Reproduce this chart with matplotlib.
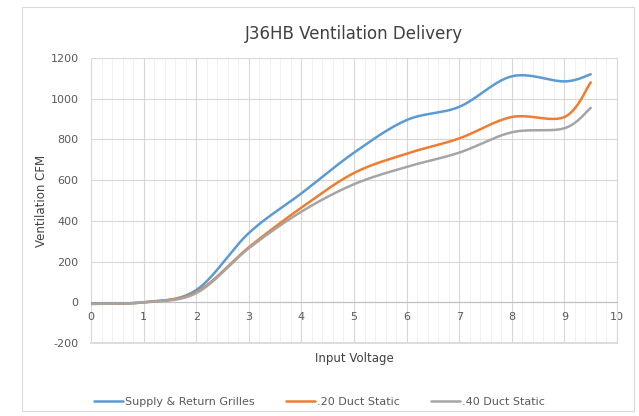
#!/usr/bin/env python3

import matplotlib.pyplot as plt
from matplotlib.patches import Rectangle
import numpy as np

plt.rcParams["axes.unicode_minus"] = False

# Data
voltage = [0, 1, 2, 3, 4, 5, 6, 7, 8, 9, 9.5]
supply_return = [-5, 0, 60, 340, 535, 735, 895, 960, 1110, 1085, 1120]
duct_20 = [-8, 0, 50, 270, 465, 635, 730, 805, 910, 910, 1080]
duct_40 = [-8, 0, 45, 265, 445, 580, 665, 735, 835, 855, 955]

SERIES = [
    ("Supply & Return Grilles", supply_return, "#5B9BD5"),
    (".20 Duct Static", duct_20, "#ED7D31"),
    (".40 Duct Static", duct_40, "#A5A5A5"),
]

TEXT = "#595959"
GRID = "#DCD6D2"


def smooth(xs, ys, steps=30):
    # parametric Catmull-Rom, similar to Excel's "smoothed line"
    pts = np.column_stack([xs, ys]).astype(float)
    pts = np.vstack([pts[0], pts, pts[-1]])
    out = []
    t = np.linspace(0, 1, steps)[:, None]
    for i in range(1, len(pts) - 2):
        p0, p1, p2, p3 = pts[i - 1], pts[i], pts[i + 1], pts[i + 2]
        seg = 0.5 * ((2 * p1) + (-p0 + p2) * t
                     + (2 * p0 - 5 * p1 + 4 * p2 - p3) * t ** 2
                     + (-p0 + 3 * p1 - 3 * p2 + p3) * t ** 3)
        out.append(seg if i == 1 else seg[1:])
    out = np.vstack(out)
    return out[:, 0], out[:, 1]


fig = plt.figure(figsize=(6.39, 4.16), dpi=100)
fig.patches.append(Rectangle((0.035, 0.012), 0.957, 0.97, transform=fig.transFigure,
                             fill=False, edgecolor="#D9D9D9", linewidth=0.8))

ax = fig.add_axes([0.1424, 0.1755, 0.8232, 0.6851])

for label, vals, color in SERIES:
    sx, sy = smooth(voltage, vals)
    ax.plot(sx, sy, color=color, linewidth=1.8, label=label, zorder=3,
            solid_capstyle="round")

ax.set_xlim(0, 10)
ax.set_ylim(-200, 1200)
ax.set_xticks(range(0, 11))
ax.set_yticks(range(-200, 1201, 200))
ax.set_xticks(np.arange(0, 10.01, 0.2), minor=True)

ax.grid(True, which="major", color=GRID, linewidth=0.8)
ax.grid(True, which="minor", axis="x", color="#EEEAE8", linewidth=0.5)
ax.set_axisbelow(True)
ax.axhline(-200, color=GRID, linewidth=1.2, clip_on=False, zorder=1)

for side in ["top", "left"]:
    ax.spines[side].set_visible(False)
ax.spines["right"].set_color(GRID)
ax.spines["bottom"].set_position(("data", 0))
ax.spines["bottom"].set_color("#BFBFBF")

ax.tick_params(axis="both", which="both", length=0, labelsize=8, labelcolor=TEXT)
ax.tick_params(axis="x", pad=7)
ax.tick_params(axis="y", pad=9)

ax.set_title("J36HB Ventilation Delivery", fontsize=12, color="#404040", pad=14)
ax.set_ylabel("Ventilation CFM", fontsize=8.5, color="#404040", labelpad=2)
ax.text(0.5, -0.03, "Input Voltage", transform=ax.transAxes, ha="center", va="top",
        fontsize=8.5, color="#404040")

fig.legend(loc="lower center", bbox_to_anchor=(0.5, -0.003), ncol=3, frameon=False,
           fontsize=8, labelcolor=TEXT, handlelength=2.6, handletextpad=0.2,
           columnspacing=2.8)

fig.savefig("out.png", dpi=100)
